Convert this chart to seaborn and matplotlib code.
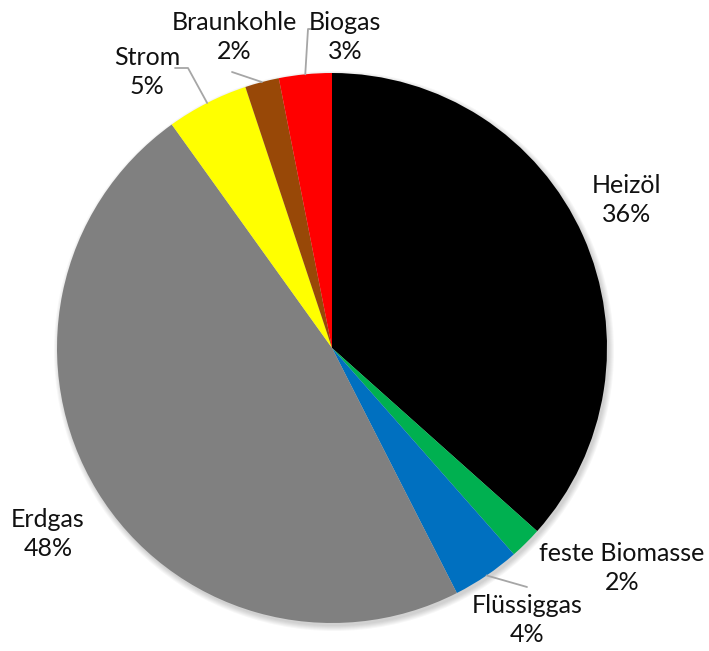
import numpy as np
import matplotlib
matplotlib.use("Agg")
import matplotlib.pyplot as plt
import seaborn as sns
from matplotlib.patches import Circle

# Data (percent, clockwise from 12 o'clock)
categories = ["Heizöl", "feste Biomasse", "Flüssiggas", "Erdgas", "Strom", "Braunkohle", "Biogas"]
shares = [36.6, 1.9, 4.0, 47.6, 4.8, 2.0, 3.1]
pct_labels = ["36%", "2%", "4%", "48%", "5%", "2%", "3%"]
colors = ["#000000", "#00B050", "#0070C0", "#808080", "#FFFF00", "#984807", "#FF0000"]

sns.set_theme(style="white")
plt.rcParams['font.family'] = ['Lato', 'DejaVu Sans']

W, H = 709, 651
fig = plt.figure(figsize=(W / 100, H / 100), dpi=100)
ax = fig.add_axes([0, 0, 1, 1])

cx, cy, R = 332, H - 348, 275

# soft shadow towards the lower right
for k in range(6):
    ax.add_patch(Circle((cx + 2, cy - 3), R + 5 - k, color="black", alpha=0.03, lw=0, zorder=0))

wedges, _ = ax.pie(shares, colors=sns.color_palette(colors), startangle=90, counterclock=False,
                   center=(cx, cy), radius=R, wedgeprops=dict(linewidth=0, zorder=1))

# label layout in pixels from the top-left corner
label_pos = {
    "Heizöl": (627, 200),
    "feste Biomasse": (622, 568),
    "Flüssiggas": (527, 620),
    "Erdgas": (48, 534),
    "Strom": (147, 72),
    "Braunkohle": (234, 37),
    "Biogas": (345, 37),
}
leader_pts = {
    "Flüssiggas": [(527, 587)],
    "Strom": [(188, 68), (175, 68)],
    "Braunkohle": [(232, 72)],
    "Biogas": [(308, 29), (320, 29)],
}

for w, name, pct in zip(wedges, categories, pct_labels):
    x, y = label_pos[name]
    ax.text(x, H - y, f"{name}\n{pct}", ha="center", va="center", fontsize=18,
            color="#111111", linespacing=1.3, zorder=3)
    if name in leader_pts:
        mid = np.deg2rad((w.theta1 + w.theta2) / 2)
        xs = [cx + R * np.cos(mid)] + [p[0] for p in leader_pts[name]]
        ys = [cy + R * np.sin(mid)] + [H - p[1] for p in leader_pts[name]]
        ax.plot(xs, ys, color="#A6A6A6", lw=1.3, zorder=2)

ax.set_xlim(0, W)
ax.set_ylim(0, H)
ax.set_aspect("equal")
ax.axis("off")

fig.savefig("out.png", dpi=100, facecolor="white")
